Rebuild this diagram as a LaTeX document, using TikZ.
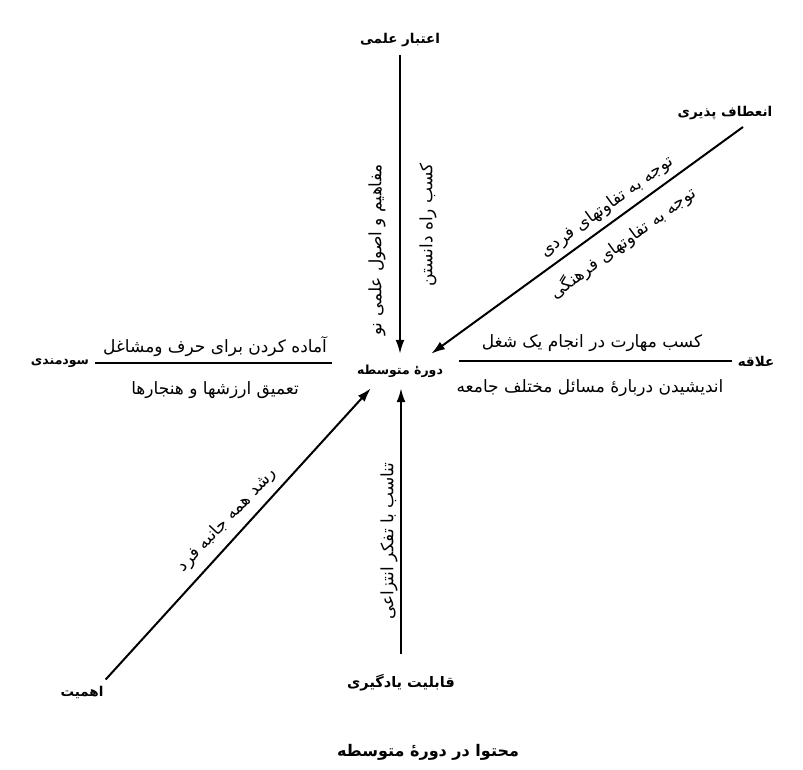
\documentclass[tikz,border=0pt]{standalone}
\usepackage{fontspec}
\newfontfamily\farsi[Script=Arabic]{DejaVu Sans}
\TeXXeTstate=1
\usetikzlibrary{arrows.meta}
\newcommand{\rtl}[1]{\beginR #1\endR}

\begin{document}
\begin{tikzpicture}[
  x=1pt, y=-1pt,
  endlabel/.style={font=\farsi\bfseries\fontsize{13.5}{15}\selectfont, inner sep=2pt},
  midlabel/.style={font=\farsi\bfseries\fontsize{12.5}{14}\selectfont, minimum width=84pt, minimum height=34pt, inner sep=0pt},
  linetext/.style={font=\farsi\fontsize{17}{19}\selectfont, inner sep=1pt},
  arrow/.style={-{Latex[length=14pt,width=9pt]}, line width=2pt},
  bar/.style={line width=2pt},
]
\useasboundingbox (0,0) rectangle (803,769);

\node[midlabel] (dore) at (400,371) {\rtl{دورهٔ متوسطه}};
\node[endlabel] (etebar) at (400,40) {\rtl{اعتبار علمی}};
\node[endlabel] (enataf) at (725,113) {\rtl{انعطاف پذیری}};
\node[endlabel] (alaqe) at (756,361) {\rtl{علاقه}};
\node[endlabel, font=\farsi\bfseries\fontsize{12.5}{14}\selectfont] (sudmandi) at (60,363) {\rtl{سودمندی}};
\node[endlabel] (ahamiyat) at (82,692) {\rtl{اهمیت}};
\node[endlabel, font=\farsi\bfseries\fontsize{14.5}{16}\selectfont] (qabeliyat) at (401,683) {\rtl{قابلیت یادگیری}};
\node[endlabel, font=\farsi\bfseries\fontsize{16}{18}\selectfont] (title) at (428,752) {\rtl{محتوا در دورهٔ متوسطه}};

% texts beside the lines
\node[linetext, rotate=90] (t-up1) at (377,250) {\rtl{مفاهیم و اصول علمی نو}};
\node[linetext, rotate=90] (t-up2) at (428,225) {\rtl{کسب راه دانستن}};
\node[linetext, rotate=36.1] (t-ne1) at (607,207) {\rtl{توجه به تفاوتهای فردی}};
\node[linetext, rotate=36.1] (t-ne2) at (623,243) {\rtl{توجه به تفاوتهای فرهنگی}};
\node[linetext] (t-r1) at (592,343) {\rtl{کسب مهارت در انجام یک شغل}};
\node[linetext] (t-r2) at (590,388) {\rtl{اندیشیدن دربارهٔ مسائل مختلف جامعه}};
\node[linetext] (t-l1) at (215,347) {\rtl{آماده کردن برای حرف ومشاغل}};
\node[linetext] (t-l2) at (215,390) {\rtl{تعمیق ارزشها و هنجارها}};
\node[linetext, rotate=46.7] (t-sw) at (227,520) {\rtl{رشد همه جانبه فرد}};
\node[linetext, rotate=90] (t-dn) at (389,541) {\rtl{تناسب با تفکر انتزاعی}};

\draw[arrow] ([yshift=-6pt]etebar.south) -- (etebar.south |- dore.north);
\draw[arrow] ([xshift=18pt,yshift=-5pt]enataf.south) -- ([xshift=-12pt]dore.north east);
\draw[arrow] ([yshift=18pt]qabeliyat.north) -- (qabeliyat.north |- dore.south);
\draw[arrow] ([yshift=4pt]ahamiyat.north east) -- ([xshift=14pt]dore.south west);
\draw[bar, shorten >=25pt] ([xshift=4pt]sudmandi.east) -- (sudmandi.east -| dore.west);
\draw[bar, shorten >=16pt] ([xshift=-4pt]alaqe.west) -- (alaqe.west -| dore.east);

\end{tikzpicture}
\end{document}
